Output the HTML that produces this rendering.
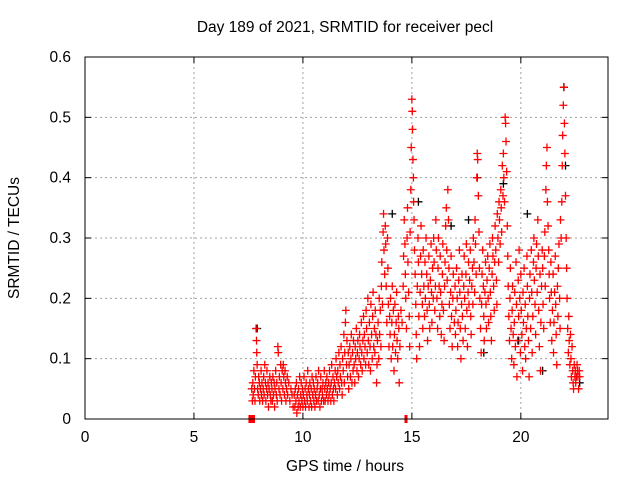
<!DOCTYPE html>
<html><head><meta charset="utf-8"><style>
body{margin:0;background:#fff}
svg{display:block;font-family:"Liberation Sans",sans-serif}
</style></head><body>
<svg id="chart" width="640" height="480" viewBox="0 0 640 480">
<rect width="640" height="480" fill="#fff"/>
<g id="grid"></g>
<g id="marks"></g>
<g id="axes"></g>
<text x="345" y="32" text-anchor="middle" font-size="15.5" fill="#000">Day 189 of 2021, SRMTID for receiver pecl</text>
<text x="345" y="471" text-anchor="middle" font-size="15.5" fill="#000">GPS time / hours</text>
<text x="19" y="238" text-anchor="middle" font-size="15.5" fill="#000" transform="rotate(-90 19 238)">SRMTID / TECUs</text>
</svg>
<script>
const xTicks=[0,5,10,15,20];
const yTicks=[0,0.1,0.2,0.3,0.4,0.5,0.6];
const yTickLabels=["0","0.1","0.2","0.3","0.4","0.5","0.6"];
const gapMarkers=[[7.5,7.8],[14.66,14.8]];
const blackPoints=[[7.9,.15],[14.1,.34],[18.0,.40],[19.2,.39],[20.3,.34],[21.98,.55],[22.05,.42],[16.8,.32],[18.3,.11],[21.0,.08],[22.7,.06],[15.3,.36],[19.9,.13],[17.6,.33]];
const redPoints=[[7.65,.05],[7.68,.03],[7.7,.06],[7.72,.04],[7.75,.08],[7.78,.05],[7.8,.03],[7.82,.07],[7.85,.15],[7.87,.13],[7.88,.11],[7.9,.09],[7.92,.05],[7.95,.04],[7.97,.07],[8.0,.06],[8.02,.03],[8.05,.05],[8.08,.08],[8.1,.04],[8.12,.06],[8.15,.03],[8.18,.05],[8.2,.07],[8.22,.04],[8.25,.09],[8.28,.06],[8.3,.03],[8.33,.05],[8.35,.08],[8.38,.04],[8.4,.06],[8.42,.02],[8.45,.05],[8.48,.07],[8.5,.04],[8.53,.03],[8.55,.06],[8.58,.05],[8.6,.03],[8.62,.07],[8.65,.04],[8.68,.06],[8.7,.02],[8.72,.05],[8.75,.08],[8.78,.04],[8.8,.06],[8.82,.03],[8.85,.12],[8.87,.11],[8.9,.05],[8.92,.07],[8.95,.04],[8.98,.09],[9.0,.06],[9.02,.03],[9.05,.08],[9.08,.05],[9.1,.09],[9.12,.07],[9.15,.04],[9.18,.08],[9.2,.06],[9.22,.03],[9.25,.05],[9.28,.07],[9.3,.04],[9.35,.06],[9.4,.03],[9.45,.05],[9.5,.04],[9.55,.02],
[9.6,.04],[9.63,.02],[9.65,.05],[9.68,.03],[9.7,.06],[9.72,.01],[9.75,.04],[9.78,.02],[9.8,.05],[9.82,.03],[9.85,.07],[9.88,.02],[9.9,.04],[9.92,.06],[9.95,.03],[9.98,.05],[10.0,.02],[10.02,.04],[10.05,.07],[10.08,.03],[10.1,.05],[10.12,.02],[10.15,.06],[10.18,.04],[10.2,.03],[10.22,.08],[10.25,.05],[10.28,.02],[10.3,.04],[10.32,.06],[10.35,.03],[10.38,.05],[10.4,.02],[10.42,.07],[10.45,.04],[10.48,.06],[10.5,.03],[10.52,.05],[10.55,.02],[10.58,.04],[10.6,.07],[10.62,.03],[10.65,.05],[10.68,.06],[10.7,.03],[10.72,.08],[10.75,.04],[10.78,.02],[10.8,.05],[10.82,.07],[10.85,.03],[10.88,.05],[10.9,.04],[10.92,.06],[10.95,.03],[10.98,.08],[11.0,.05],[11.02,.03],[11.05,.06],[11.08,.04],[11.1,.07],[11.12,.05],[11.15,.03],[11.18,.06],[11.2,.04],[11.22,.08],[11.25,.05],[11.28,.03],[11.3,.06],[11.32,.09],[11.35,.04],[11.38,.07],[11.4,.05],[11.42,.03],[11.45,.06],[11.48,.08],
[11.5,.05],[11.52,.10],[11.55,.07],[11.58,.04],[11.6,.08],[11.62,.06],[11.65,.11],[11.68,.05],[11.7,.09],[11.72,.07],[11.75,.12],[11.78,.06],[11.8,.04],[11.82,.10],[11.85,.08],[11.88,.14],[11.9,.06],[11.92,.11],[11.95,.16],[11.97,.18],[12.0,.09],[12.02,.13],[12.05,.07],[12.08,.11],[12.1,.05],[12.12,.09],[12.15,.12],[12.18,.07],[12.2,.10],[12.22,.14],[12.25,.06],[12.28,.11],[12.3,.08],[12.32,.13],[12.35,.09],[12.38,.06],[12.4,.12],[12.42,.10],[12.45,.15],[12.48,.08],[12.5,.11],[12.52,.13],[12.55,.07],[12.58,.10],[12.6,.14],[12.62,.12],[12.65,.09],[12.68,.16],[12.7,.11],[12.72,.08],[12.75,.13],[12.78,.17],[12.8,.10],[12.82,.14],[12.85,.12],[12.88,.09],[12.9,.18],[12.92,.15],[12.95,.11],[12.98,.20],
[13.0,.13],[13.02,.09],[13.05,.16],[13.08,.12],[13.1,.08],[13.12,.19],[13.15,.14],[13.18,.10],[13.2,.17],[13.22,.21],[13.25,.12],[13.28,.15],[13.3,.11],[13.32,.18],[13.35,.14],[13.38,.06],[13.4,.09],[13.42,.13],[13.45,.16],[13.48,.10],[13.5,.20],[13.52,.14],[13.55,.18],[13.58,.12],[13.6,.22],[13.62,.26],[13.65,.19],[13.68,.31],[13.7,.34],[13.72,.28],[13.75,.24],[13.78,.32],[13.8,.29],[13.82,.22],[13.85,.16],[13.88,.30],[13.9,.25],[13.92,.19],[13.95,.12],[13.98,.17],
[14.0,.14],[14.02,.20],[14.05,.10],[14.08,.16],[14.1,.22],[14.12,.12],[14.15,.18],[14.18,.08],[14.2,.14],[14.22,.19],[14.25,.11],[14.28,.16],[14.3,.21],[14.32,.13],[14.35,.10],[14.38,.17],[14.4,.15],[14.42,.06],[14.45,.12],[14.5,.18],[14.55,.16],[14.6,.22],[14.62,.27],[14.65,.33],[14.68,.29],[14.7,.24],[14.72,.20],[14.75,.15],[14.78,.30],[14.8,.35],[14.82,.26],[14.85,.21],[14.88,.17],[14.9,.12],[14.92,.31],[14.95,.38],[14.97,.45],[15.0,.53],[15.02,.51],[15.03,.48],[15.05,.43],[15.07,.40],[15.08,.36],[15.1,.33],[15.12,.28],[15.15,.24],
[15.18,.19],[15.2,.14],[15.22,.10],[15.25,.22],[15.28,.30],[15.3,.26],[15.32,.17],[15.35,.12],[15.38,.21],[15.4,.27],[15.42,.32],[15.45,.24],[15.48,.19],[15.5,.15],[15.52,.28],[15.55,.22],[15.58,.17],[15.6,.26],[15.62,.20],[15.65,.30],[15.68,.24],[15.7,.18],[15.72,.13],[15.75,.22],[15.78,.27],[15.8,.19],[15.82,.15],[15.85,.23],[15.88,.29],[15.9,.21],[15.92,.16],[15.95,.25],[15.98,.20],[16.0,.30],[16.02,.26],[16.05,.18],[16.08,.22],[16.1,.33],[16.12,.28],[16.15,.20],[16.18,.15],[16.2,.25],[16.22,.30],[16.25,.22],[16.28,.17],[16.3,.27],[16.32,.21],[16.35,.14],[16.38,.19],[16.4,.24],[16.42,.29],[16.45,.18],[16.48,.13],[16.5,.22],[16.52,.26],[16.55,.32],[16.58,.35],[16.6,.28],[16.62,.23],[16.65,.38],[16.68,.33],[16.7,.25],[16.72,.19],[16.75,.15],[16.78,.21],[16.8,.27],[16.82,.17],[16.85,.12],[16.88,.20],[16.9,.24],[16.95,.16],[16.98,.22],
[17.0,.14],[17.02,.18],[17.05,.25],[17.08,.20],[17.1,.12],[17.12,.16],[17.15,.23],[17.18,.28],[17.2,.21],[17.22,.15],[17.25,.10],[17.28,.19],[17.3,.24],[17.32,.17],[17.35,.13],[17.38,.22],[17.4,.27],[17.42,.20],[17.45,.15],[17.48,.24],[17.5,.29],[17.52,.18],[17.55,.12],[17.58,.21],[17.6,.26],[17.62,.19],[17.65,.23],[17.68,.28],[17.7,.17],[17.72,.14],[17.75,.22],[17.78,.25],[17.8,.19],[17.82,.30],[17.85,.26],[17.88,.21],[17.9,.33],[17.92,.29],[17.95,.24],[17.98,.40],[18.0,.44],[18.02,.43],[18.05,.37],[18.08,.31],[18.1,.25],[18.12,.20],[18.15,.15],[18.18,.11],[18.2,.19],[18.22,.24],[18.25,.28],[18.28,.22],[18.3,.17],[18.32,.13],[18.35,.21],[18.38,.26],[18.4,.19],[18.42,.15],[18.45,.23],[18.48,.27],
[18.5,.20],[18.52,.16],[18.55,.25],[18.58,.29],[18.6,.21],[18.62,.17],[18.65,.13],[18.68,.24],[18.7,.30],[18.72,.27],[18.75,.22],[18.78,.18],[18.8,.26],[18.82,.32],[18.85,.28],[18.88,.23],[18.9,.19],[18.92,.34],[18.95,.30],[18.98,.26],[19.0,.36],[19.02,.33],[19.05,.29],[19.08,.38],[19.1,.35],[19.12,.31],[19.15,.42],[19.18,.37],[19.2,.44],[19.22,.40],[19.25,.36],[19.28,.50],[19.3,.49],[19.32,.46],[19.35,.41],[19.38,.32],[19.4,.27],[19.42,.22],[19.45,.17],[19.48,.13],[19.5,.20],[19.52,.25],[19.55,.15],[19.58,.10],
[19.6,.18],[19.62,.22],[19.65,.14],[19.68,.09],[19.7,.16],[19.72,.21],[19.75,.12],[19.78,.26],[19.8,.19],[19.82,.07],[19.85,.13],[19.88,.23],[19.9,.17],[19.92,.28],[19.95,.20],[19.98,.11],[20.0,.24],[20.02,.18],[20.05,.14],[20.08,.08],[20.1,.21],[20.12,.16],[20.15,.25],[20.18,.12],[20.2,.19],[20.22,.10],[20.25,.15],[20.28,.27],[20.3,.22],[20.32,.17],[20.35,.13],[20.38,.07],[20.4,.20],[20.42,.24],[20.45,.15],[20.48,.28],[20.5,.21],[20.52,.11],[20.55,.17],[20.58,.26],[20.6,.30],[20.62,.23],[20.65,.19],[20.68,.14],[20.7,.25],[20.72,.29],[20.75,.21],[20.78,.33],[20.8,.27],[20.82,.18],[20.85,.12],[20.88,.24],[20.9,.08],[20.92,.16],[20.95,.22],[20.98,.28],
[21.0,.25],[21.02,.19],[21.05,.15],[21.08,.27],[21.1,.31],[21.12,.22],[21.15,.38],[21.17,.42],[21.2,.45],[21.22,.36],[21.25,.32],[21.28,.28],[21.3,.24],[21.32,.20],[21.35,.16],[21.38,.26],[21.4,.21],[21.42,.13],[21.45,.18],[21.48,.24],[21.5,.11],[21.52,.16],[21.55,.21],[21.58,.27],[21.6,.19],[21.62,.14],[21.65,.09],[21.68,.22],[21.7,.17],[21.72,.25],[21.75,.29],[21.78,.20],[21.8,.15],[21.82,.33],[21.85,.30],[21.88,.36],[21.9,.42],[21.92,.47],[21.95,.52],[21.97,.55],[22.0,.49],[22.02,.44],[22.05,.37],[22.08,.30],[22.1,.25],[22.12,.20],[22.15,.15],[22.18,.11],[22.2,.17],[22.22,.13],[22.25,.09],[22.28,.14],
[22.3,.10],[22.32,.07],[22.35,.12],[22.38,.08],[22.4,.06],[22.42,.05],[22.45,.09],[22.48,.07],[22.5,.08],[22.52,.06],[22.55,.07],[22.58,.09],[22.6,.08],[22.62,.07],[22.65,.05],[22.68,.08],[22.7,.07]];

const L=85,R=608,T=57,B=419,XMAX=24,YMAX=0.6;
const NS="http://www.w3.org/2000/svg";
function xs(v){return L+v/XMAX*(R-L);}
function ys(v){return B-v/YMAX*(B-T);}
function mk(tag,attrs,parent){const e=document.createElementNS(NS,tag);for(const k in attrs)e.setAttribute(k,attrs[k]);parent.appendChild(e);return e;}
const grid=document.getElementById('grid'),marks=document.getElementById('marks'),axes=document.getElementById('axes');
xTicks.forEach(t=>{
  const x=xs(t);
  if(t>0){const g=mk('line',{x1:x,x2:x,y1:T,y2:B,stroke:'#a0a0a0','stroke-dasharray':'2,3','stroke-width':1},grid);
  
  }
  mk('line',{x1:x,x2:x,y1:B,y2:B-6,stroke:'#000'},axes);
  mk('line',{x1:x,x2:x,y1:T,y2:T+6,stroke:'#000'},axes);
  const lb=mk('text',{x:x,y:B+23,'text-anchor':'middle','font-size':15.5},axes);
  lb.textContent=String(t);
  
  
});
yTicks.forEach((t,i)=>{
  const y=ys(t);
  if(t>0&&t<YMAX){const g=mk('line',{x1:L,x2:R,y1:y,y2:y,stroke:'#a0a0a0','stroke-dasharray':'2,3','stroke-width':1},grid);
  
  }
  mk('line',{x1:L,x2:L+6,y1:y,y2:y,stroke:'#000'},axes);
  mk('line',{x1:R,x2:R-6,y1:y,y2:y,stroke:'#000'},axes);
  const lb=mk('text',{x:L-14,y:y+5,'text-anchor':'end','font-size':15.5},axes);
  lb.textContent=yTickLabels[i];
  
  
});
const frame=mk('rect',{x:L,y:T,width:R-L,height:B-T,fill:'none',stroke:'#000','stroke-width':1},axes);


function plus(p,color){
  const x=xs(p[0]),y=ys(p[1]);
  const g=mk('path',{d:`M${x-4} ${y}H${x+4}M${x} ${y-4}V${y+4}`,stroke:color,'stroke-width':1.3,fill:'none'},marks);
  
  
}
blackPoints.forEach(p=>plus(p,'#000'));
redPoints.forEach(p=>plus(p,'#ff0000'));
gapMarkers.forEach(m=>{
  const r=mk('rect',{x:xs(m[0]),y:B-4,width:xs(m[1])-xs(m[0]),height:8,fill:'#ff0000'},marks);
  
  
});
</script>
</body></html>
